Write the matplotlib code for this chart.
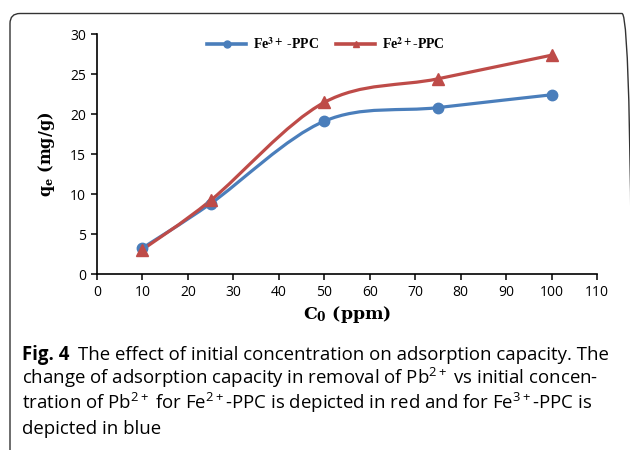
import matplotlib
matplotlib.use("Agg")
import matplotlib.pyplot as plt
from matplotlib.path import Path
from matplotlib.patches import PathPatch, FancyBboxPatch

# Data
conc = [10, 25, 50, 75, 100]
qe_fe3 = [3.25, 8.8, 19.1, 20.8, 22.4]
qe_fe2 = [3.05, 9.2, 21.45, 24.4, 27.35]

x_ticks = list(range(0, 111, 10))
y_ticks = list(range(0, 31, 5))

caption_lines = [
    "The effect of initial concentration on adsorption capacity. The",
    "change of adsorption capacity in removal of Pb$^{2+}$vs initial concen-",
    "tration of Pb$^{2+}$for Fe$^{2+}$-PPC is depicted in red and for Fe$^{3+}$-PPC is",
    "depicted in blue",
]

blue = "#4a7ebb"
red = "#be4b48"

plt.rcParams["mathtext.fontset"] = "custom"
plt.rcParams["mathtext.rm"] = "Open Sans"
plt.rcParams["mathtext.bf"] = "Open Sans:bold"
plt.rcParams["mathtext.it"] = "Open Sans:italic"


def smooth_path(xs, ys):
    # Excel-like smoothed line: cubic Bezier segments through the points
    pts = list(zip(xs, ys))
    n = len(pts)
    verts = [pts[0]]
    codes = [Path.MOVETO]
    for i in range(n - 1):
        p0 = pts[max(i - 1, 0)]
        p1 = pts[i]
        p2 = pts[i + 1]
        p3 = pts[min(i + 2, n - 1)]
        c1 = (p1[0] + (p2[0] - p0[0]) / 6, p1[1] + (p2[1] - p0[1]) / 6)
        c2 = (p2[0] - (p3[0] - p1[0]) / 6, p2[1] - (p3[1] - p1[1]) / 6)
        verts += [c1, c2, p2]
        codes += [Path.CURVE4] * 3
    return Path(verts, codes)


fig = plt.figure(figsize=(6.3, 4.5), dpi=100)
ax = fig.add_axes([97 / 630, 1 - 274 / 450, 500 / 630, 240 / 450])

for ys, col, mk, ms, lab in [
    (qe_fe3, blue, "o", 7.5, r"Fe$^{\mathbf{3+}}$ -PPC"),
    (qe_fe2, red, "^", 8.5, r"Fe$^{\mathbf{2+}}$-PPC"),
]:
    ax.add_patch(PathPatch(smooth_path(conc, ys), facecolor="none",
                           edgecolor=col, lw=2.3, zorder=3))
    ax.plot(conc, ys, linestyle="none", marker=mk, ms=ms, color=col, zorder=4)
    ax.plot([], [], color=col, lw=2.6, marker=mk, ms=5, label=lab)

ax.set_xlim(0, 110)
ax.set_ylim(0, 30)
ax.set_xticks(x_ticks)
ax.set_yticks(y_ticks)
for s in ["top", "right"]:
    ax.spines[s].set_visible(False)
for s in ["left", "bottom"]:
    ax.spines[s].set_linewidth(1.2)
ax.tick_params(direction="out", length=4, width=1.1, labelsize=10, pad=4)
for t in ax.get_xticklabels() + ax.get_yticklabels():
    t.set_fontfamily("Open Sans")

ax.set_xlabel(r"C$_\mathbf{0}$ (ppm)", fontfamily="DejaVu Serif",
              fontweight="bold", fontsize=12.5, math_fontfamily="dejavuserif")
ax.xaxis.set_label_coords(0.5, -0.125)
ax.set_ylabel(r"q$_\mathbf{e}$ (mg/g)", fontfamily="DejaVu Serif",
              fontweight="bold", fontsize=11.5, math_fontfamily="dejavuserif")
ax.yaxis.set_label_coords(-0.08, 0.5)

leg = fig.legend(loc="center", bbox_to_anchor=(326 / 630, 1 - 44 / 450),
                 ncol=2, frameon=False, handlelength=2.8, columnspacing=1.2,
                 handletextpad=0.5,
                 prop={"family": "Liberation Serif", "weight": "bold", "size": 10})
for t in leg.get_texts():
    t.set_math_fontfamily("stix")

# Frame around the figure panel
frame = FancyBboxPatch((0.10, -0.3), 6.22, 4.365 + 0.3,
                       boxstyle="round,pad=0,rounding_size=0.1",
                       transform=fig.dpi_scale_trans, facecolor="none",
                       edgecolor="#333333", lw=1.0, clip_on=False)
fig.patches.append(frame)

# Caption
y0 = 1 - 360 / 450
dy = 24.5 / 450
fs = 13.4
t1 = fig.text(22 / 630, y0, "Fig. 4", fontfamily="Open Sans",
              fontweight="bold", fontsize=fs, va="baseline")
ax.annotate(caption_lines[0], xy=(1, y0), xycoords=(t1, "figure fraction"),
            xytext=(6, 0), textcoords="offset points", fontfamily="Open Sans",
            fontsize=fs, va="baseline", annotation_clip=False)
for i, line in enumerate(caption_lines[1:], start=1):
    fig.text(22 / 630, y0 - i * dy, line.replace("$for", "$ for").replace("$vs", "$ vs"),
             fontfamily="Open Sans", fontsize=fs, va="baseline")

fig.savefig("out.png", dpi=100)
